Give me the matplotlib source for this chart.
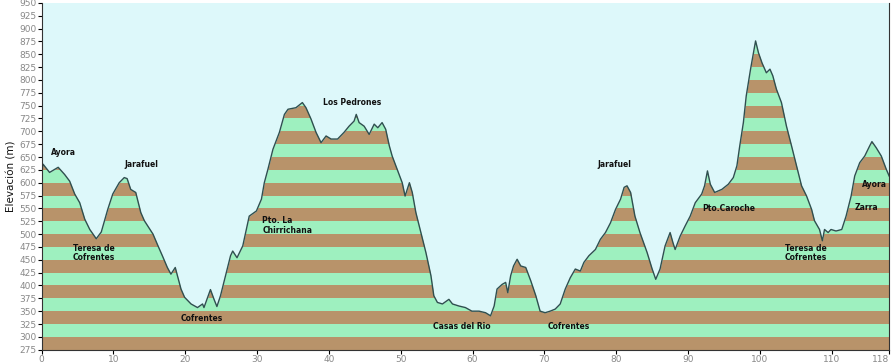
import matplotlib.pyplot as plt
import numpy as np

# perfil: distancia (km) y elevacion (m)
km = [0.0, 0.2, 1.1, 2.3, 3.2, 3.9, 4.6, 5.3, 6.0, 6.7, 7.6, 8.3, 9.2, 9.9, 10.8,
      11.5, 11.9, 12.4, 13.1, 13.8, 14.3, 15.5, 16.2, 16.8, 17.5, 18.0, 18.6, 18.9,
      19.4, 19.9, 20.8, 21.7, 22.4, 22.6, 23.5, 24.0, 24.4, 24.9, 25.6, 26.3, 26.6,
      27.2, 28.0, 28.9, 29.9, 30.6, 31.0, 31.5, 32.2, 33.1, 33.8, 34.3, 35.4, 36.3,
      36.8, 37.5, 38.2, 38.9, 39.6, 40.3, 41.2, 42.1, 42.8, 43.5, 43.8, 44.2, 44.9,
      45.6, 46.3, 46.8, 47.4, 47.9, 48.4, 48.8, 49.5, 50.2, 50.6, 51.2, 51.6, 52.1,
      52.8, 53.5, 54.2, 54.6, 55.1, 55.8, 56.7, 57.2, 58.1, 59.0, 59.9, 60.9, 61.8,
      62.5, 63.0, 63.4, 64.1, 64.6, 64.9, 65.3, 65.7, 66.2, 66.7, 67.4, 68.1, 68.8,
      69.4, 70.1, 70.8, 71.5, 72.2, 72.9, 73.6, 74.3, 75.0, 75.5, 76.2, 77.1, 77.8,
      78.5, 79.2, 79.9, 80.6, 81.1, 81.5, 82.0, 82.6, 83.3, 84.3, 85.0, 85.5, 86.1,
      86.8, 87.5, 87.9, 88.2, 88.9, 89.6, 90.3, 91.0, 91.9, 92.3, 92.7, 93.1, 93.7,
      94.7, 95.6, 96.3, 96.8, 97.2, 97.7, 98.1, 98.7, 99.1, 99.4, 99.8, 100.3, 100.9,
      101.4, 101.8, 102.3, 103.0, 103.7, 104.4, 105.1, 105.8, 106.5, 107.2, 107.6,
      108.3, 108.7, 109.0, 109.5, 109.9, 110.6, 111.4, 112.0, 112.7, 113.2, 113.9,
      114.6, 115.3, 115.6, 116.2, 116.9, 117.6, 118.0]
elev = [620, 636, 620, 630, 616, 603, 578, 561, 529, 509, 491, 504, 548, 578, 600,
        610, 608, 587, 581, 542, 526, 500, 477, 458, 435, 422, 435, 419,
        393, 377, 364, 357, 364, 357, 392, 373, 359, 380, 419, 458, 467,
        454, 477, 535, 545, 568, 600, 626, 665, 698, 733, 743, 746, 756,
        746, 724, 698, 678, 691, 685, 685, 698, 710, 720, 733, 717, 710,
        694, 714, 707, 717, 704, 672, 652, 626, 600, 574, 600, 581, 542,
        503, 464, 419, 380, 367, 364, 373, 364, 360, 357, 350, 350, 347,
        341, 360, 393, 402, 406, 386, 419, 438, 451, 438, 435, 409, 380,
        350, 347, 350, 354, 364, 393, 415, 432, 428, 445, 458, 470, 490,
        503, 522, 548, 568, 591, 594, 581, 535, 503, 464, 432, 412, 432,
        477, 503, 483, 470, 496, 516, 535, 561, 578, 594, 623, 597, 581,
        587, 597, 610, 633, 672, 717, 769, 821, 853, 876, 853, 833, 814,
        821, 808, 782, 756, 710, 672, 633, 594, 574, 548, 526,
        509, 487, 509, 503, 509, 506, 509, 535, 574, 613, 639,
        652, 672, 680, 668, 652, 626, 613]

# nombres de lugares y posicion (km, elevacion)
lugares = ["Ayora", "Jarafuel", "Teresa de\nCofrentes", "Cofrentes", "Los Pedrones",
           "Casas del Rio", "Cofrentes", "Jarafuel", "Pto.Caroche",
           "Teresa de\nCofrentes", "Zarra", "Ayora"]
lug_km = [3.1, 13.9, 7.3, 22.3, 43.2, 58.5, 73.4, 79.8, 95.6, 106.4, 114.8, 116.0]
lug_elev = [659, 636, 463, 336, 757, 321, 321, 636, 550, 463, 552, 597]

cielo = '#ddf8fa'
verde = '#9ef0bf'
marron = '#b8936a'

fig = plt.figure(figsize=(8.94, 3.62), dpi=100)
ax = fig.add_axes([0.0466, 0.034, 0.948, 0.958])

# franjas de 25 m
for base in range(275, 950, 25):
    color = marron if ((base - 275) // 25) % 2 == 0 else verde
    ax.axhspan(base, base + 25, color=color, lw=0, zorder=0)

ax.fill_between(km, elev, 960, color=cielo, lw=0, zorder=1)
ax.plot(km, elev, color='#2f4f4f', lw=1.0, zorder=2)

for txt, x, y in zip(lugares, lug_km, lug_elev):
    ax.text(x, y, txt, fontsize=5.5, fontweight='bold', color='#111111',
            ha='center', va='center', linespacing=1.1, zorder=3)
# Pto. La Chirrichana va alineado a la izquierda
ax.text(30.7, 517, "Pto. La\nChirrichana", fontsize=5.5, fontweight='bold',
        color='#111111', ha='left', va='center', linespacing=1.1, zorder=3)

ax.set_xlim(0, 118)
ax.set_ylim(275, 950)
ax.set_xticks(list(range(0, 111, 10)) + [118])
ax.set_yticks(range(275, 951, 25))
ax.tick_params(labelsize=6.5, labelcolor='#888888', length=3, width=0.8, pad=0.5)
ax.get_xticklabels()[-1].set_horizontalalignment('right')
ax.spines['top'].set_visible(False)
for s in ['left', 'bottom', 'right']:
    ax.spines[s].set_color('#333333')
ax.set_ylabel("Elevación (m)", fontsize=7.5, labelpad=2, color='#111111')

fig.savefig('out.png', dpi=100)
